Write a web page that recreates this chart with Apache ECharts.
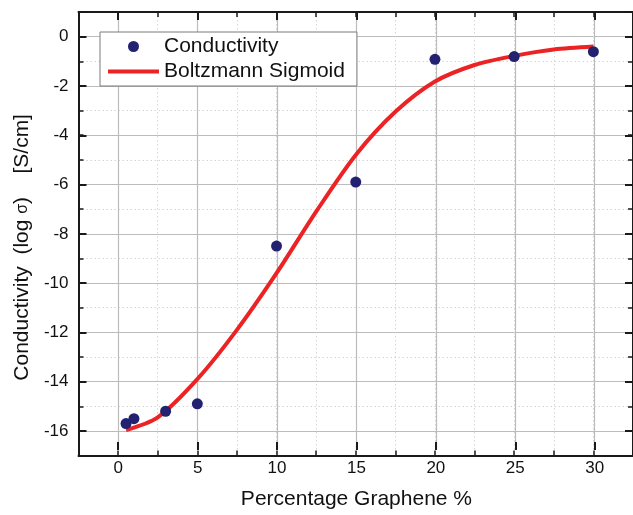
<!DOCTYPE html>
<html>
<head>
<meta charset="utf-8">
<script src="https://cdn.jsdelivr.net/npm/echarts@6/dist/echarts.min.js"></script>
<style>
html,body{margin:0;padding:0;background:#fff;}
#chart{width:633px;height:515px;}
</style>
</head>
<body>
<div id="chart"></div>
<script>
// Measured data points
var graphenePct = [0.5, 1, 3, 5, 10, 15, 20, 25, 30];
var conductivity = [-15.7, -15.5, -15.2, -14.9, -8.5, -5.9, -0.92, -0.81, -0.61];
// Boltzmann sigmoid fit curve
var fitX = [0.5, 2.5, 5, 7.5, 10, 12.5, 15, 17.5, 20, 22.5, 25, 27.5, 30];
var fitY = [-15.96, -15.45, -13.9, -11.9, -9.6, -7.1, -4.8, -3.05, -1.82, -1.15, -0.78, -0.52, -0.4];
// Tick settings
var xMajorTicks = [0, 5, 10, 15, 20, 25, 30];
var yMajorTicks = [-16, -14, -12, -10, -8, -6, -4, -2, 0];

var FONT = "'Liberation Sans', Arial, sans-serif";
var AX = '#1a1a1a';

var chart = echarts.init(document.getElementById('chart'), null, {renderer: 'canvas'});

function minorAxisX(pos) {
  return {
    type: 'value', gridIndex: 0, position: pos,
    min: -2.5, max: 32.5, interval: 2.5,
    axisLine: {show: true, onZero: false, lineStyle: {color: AX, width: 2}},
    axisTick: {show: true, inside: true, length: 5, lineStyle: {color: AX, width: 1.5}},
    axisLabel: {show: false},
    splitLine: {show: pos === 'bottom', lineStyle: {color: '#d6d6d6', width: 1, type: [1.5, 2.5]}}
  };
}
function minorAxisY(pos) {
  return {
    type: 'value', gridIndex: 0, position: pos,
    min: -17, max: 1, interval: 1,
    axisLine: {show: true, onZero: false, lineStyle: {color: AX, width: 2}},
    axisTick: {show: true, inside: true, length: 5, lineStyle: {color: AX, width: 1.5}},
    axisLabel: {show: false},
    splitLine: {show: pos === 'left', lineStyle: {color: '#d6d6d6', width: 1, type: [1.5, 2.5]}}
  };
}

var option = {
  backgroundColor: '#ffffff',
  animation: false,
  textStyle: {fontFamily: FONT},
  grid: [
    {left: 78.5, top: 12, width: 556, height: 443.6},
    {left: 78.5, top: 36.7, width: 556, height: 394.3},
    {left: 118.2, top: 12, width: 476.5, height: 443.6}
  ],
  xAxis: [
    minorAxisX('bottom'),
    minorAxisX('top'),
    {type: 'value', gridIndex: 1, min: 0, max: 1, show: false},
    {
      type: 'value', gridIndex: 2, position: 'bottom',
      min: xMajorTicks[0], max: xMajorTicks[xMajorTicks.length - 1], interval: 5,
      axisLine: {show: false, onZero: false},
      axisTick: {show: true, inside: true, length: 8, lineStyle: {color: AX, width: 2}},
      axisLabel: {show: true, margin: 10, fontSize: 17, color: '#111', fontFamily: FONT},
      splitLine: {show: true, lineStyle: {color: '#bcbcbc', width: 1.2}},
      name: 'Percentage Graphene %', nameLocation: 'middle', nameGap: 39,
      nameTextStyle: {fontSize: 21, color: '#111', fontFamily: FONT}
    },
    {
      type: 'value', gridIndex: 2, position: 'top',
      min: xMajorTicks[0], max: xMajorTicks[xMajorTicks.length - 1], interval: 5,
      axisLine: {show: false, onZero: false},
      axisTick: {show: true, inside: true, length: 8, lineStyle: {color: AX, width: 2}},
      axisLabel: {show: false},
      splitLine: {show: false}
    }
  ],
  yAxis: [
    minorAxisY('left'),
    minorAxisY('right'),
    {
      type: 'value', gridIndex: 1, position: 'left',
      min: yMajorTicks[0], max: yMajorTicks[yMajorTicks.length - 1], interval: 2,
      axisLine: {show: false, onZero: false},
      axisTick: {show: true, inside: true, length: 8, lineStyle: {color: AX, width: 2}},
      axisLabel: {show: true, margin: 10, fontSize: 17, color: '#111', fontFamily: FONT},
      splitLine: {show: true, lineStyle: {color: '#bcbcbc', width: 1.2}},
      name: '{a|Conductivity  (log }{s|σ}{a|)    [S/cm]}',
      nameLocation: 'middle', nameGap: 44,
      nameTextStyle: {
        color: '#111', fontFamily: FONT, fontSize: 21, padding: [0, 27, 0, 0],
        rich: {
          a: {fontSize: 21, color: '#111', fontFamily: FONT},
          s: {fontSize: 16, color: '#111', fontFamily: FONT}
        }
      }
    },
    {
      type: 'value', gridIndex: 1, position: 'right',
      min: yMajorTicks[0], max: yMajorTicks[yMajorTicks.length - 1], interval: 2,
      axisLine: {show: false, onZero: false},
      axisTick: {show: true, inside: true, length: 8, lineStyle: {color: AX, width: 2}},
      axisLabel: {show: false},
      splitLine: {show: false}
    },
    {type: 'value', gridIndex: 2, min: 0, max: 1, show: false}
  ],
  legend: {
    left: 100, top: 32, orient: 'vertical',
    padding: [4, 12, 4, 8],
    itemWidth: 51, itemHeight: 11, itemGap: 4,
    backgroundColor: '#ffffff',
    borderColor: '#7a7a7a', borderWidth: 1, borderRadius: 0,
    textStyle: {fontSize: 21, color: '#111', fontFamily: FONT},
    data: [
      {name: 'Conductivity', icon: 'circle'},
      {name: 'Boltzmann Sigmoid', icon: 'path://M0,0L51,0L51,4L0,4Z'}
    ]
  },
  series: [
    {
      name: 'Boltzmann Sigmoid', type: 'line',
      xAxisIndex: 0, yAxisIndex: 0,
      data: fitX.map(function (x, i) { return [x, fitY[i]]; }),
      smooth: 0.3, symbol: 'none',
      lineStyle: {color: '#ec2325', width: 4},
      itemStyle: {color: '#ec2325'},
      z: 3
    },
    {
      name: 'Conductivity', type: 'scatter',
      xAxisIndex: 0, yAxisIndex: 0,
      data: graphenePct.map(function (x, i) { return [x, conductivity[i]]; }),
      symbol: 'circle', symbolSize: 11,
      itemStyle: {color: '#222270', opacity: 1},
      z: 4
    }
  ]
};
chart.setOption(option);
</script>
</body>
</html>
